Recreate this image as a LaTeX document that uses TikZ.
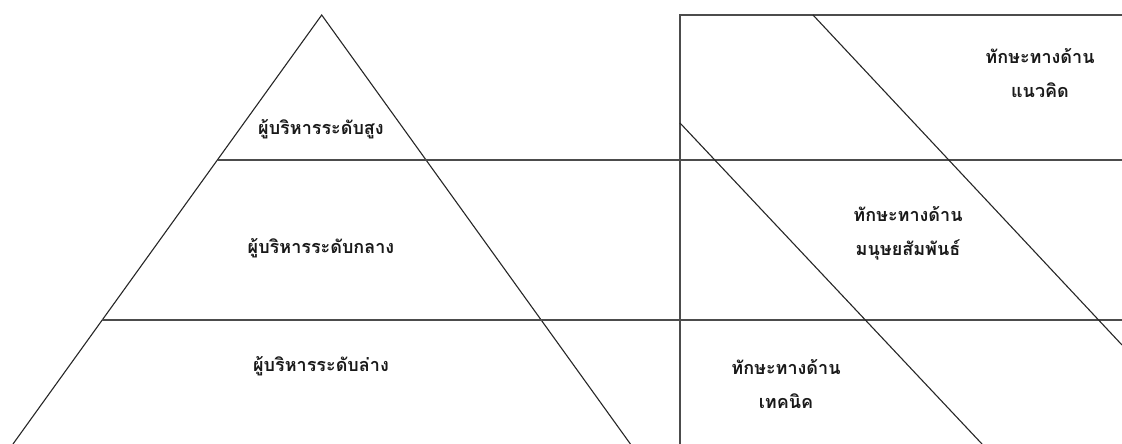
\documentclass[tikz,border=0pt]{standalone}
\usepackage{fontspec}
\newfontfamily\thaifont[Script=Thai]{Loma}
\begin{document}
\begin{tikzpicture}[x=1pt,y=-1pt,
  thin line/.style={line width=1.1pt, draw=black!85},
  level line/.style={line width=1.5pt, draw=black!70},
  lbl/.style={font=\thaifont\bfseries\fontsize{18}{34}\selectfont, align=center, inner sep=0pt, text=black!90}]
\useasboundingbox (0,0) rectangle (1122,444);
% pyramid
\coordinate (apex) at (321.7,15);
\coordinate (bl) at (13,444);
\coordinate (br) at (630.4,444);
\draw[thin line] (bl) -- (apex) -- (br);
% level lines
\coordinate (l1a) at (217.6,160);
\coordinate (l1b) at (1122,160);
\coordinate (l2a) at (102,320);
\coordinate (l2b) at (1122,320);
\draw[level line] (l1a) -- (l1b);
\draw[level line] (l2a) -- (l2b);
% skills box
\coordinate (rb) at (680,444);
\coordinate (rt) at (680,15);
\coordinate (rr) at (1122,15);
\draw[level line] (rb) -- (rt) -- (rr);
% diagonals
\coordinate (d1a) at (680,123);
\coordinate (d1b) at (982,444);
\coordinate (d2a) at (813,15);
\coordinate (d2b) at (1122,345);
\draw[thin line] (d1a) -- (d1b);
\draw[thin line] (d2a) -- (d2b);
% labels
\node[lbl] (top) at (321,129) {ผู้บริหารระดับสูง};
\node[lbl] (mid) at (321,248) {ผู้บริหารระดับกลาง};
\node[lbl] (low) at (321,366) {ผู้บริหารระดับล่าง};
\node[lbl] (concept) at (1040,73) {ทักษะทางด้าน\\แนวคิด};
\node[lbl] (human) at (908,233) {ทักษะทางด้าน\\มนุษยสัมพันธ์};
\node[lbl] (tech) at (786,384) {ทักษะทางด้าน\\เทคนิค};
\end{tikzpicture}
\end{document}
